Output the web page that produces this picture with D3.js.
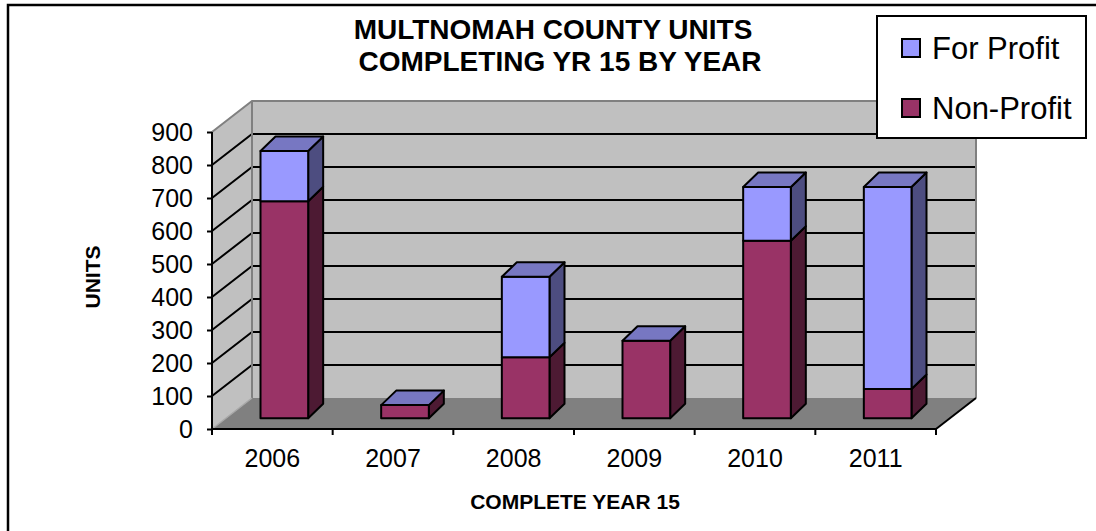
<!DOCTYPE html>
<html>
<head>
<meta charset="utf-8">
<script src="https://cdn.jsdelivr.net/npm/d3@7"></script>
<style>
  body { margin: 0; background: #fff; }
  svg { display: block; font-family: "Liberation Sans", Arial, sans-serif; }
</style>
</head>
<body>
<svg width="1096" height="531"></svg>
<script>
var years = ["2006", "2007", "2008", "2009", "2010", "2011"];
var nonProfit = [658, 40, 185, 235, 538, 89];
var forProfit = [152, 0, 244, 0, 163, 612];
var yTicks = [0, 100, 200, 300, 400, 500, 600, 700, 800, 900];
var seriesNames = ["For Profit", "Non-Profit"];

var svg = d3.select("svg");

// plot box (front plane)
var plotL = 212, plotR = 936, plotB = 429, plotT = 132;
// depth of walls, and of bars
var wdx = 40, wdy = -31;
var bdx = 15, bdy = -14.5;
var frontX = 12, frontY = -10.7;

var x = d3.scaleBand().domain(years).range([plotL, plotR]);
var y = d3.scaleLinear().domain([0, 900]).range([plotB, plotT]);

var colors = {
    fp: { front: "#9999ff", side: "#4d4d80", top: "#7777c2" },
    np: { front: "#993366", side: "#4d1a33", top: "#7a2952" }
};

// frame
svg.append("rect")
    .attr("x", 8).attr("y", 5).attr("width", 1200).attr("height", 600)
    .attr("fill", "none").attr("stroke", "#000").attr("stroke-width", 2.5);

// walls and floor
var y0 = y(0), y9 = y(900);
svg.append("polygon")
    .attr("points", [[plotL, y0], [plotL, y9], [plotL + wdx, y9 + wdy], [plotL + wdx, y0 + wdy]].join(" "))
    .attr("fill", "#c0c0c0");
svg.append("polygon")
    .attr("points", [[plotL + wdx, y9 + wdy], [plotR + wdx, y9 + wdy], [plotR + wdx, y0 + wdy], [plotL + wdx, y0 + wdy]].join(" "))
    .attr("fill", "#c0c0c0");
svg.append("polygon")
    .attr("points", [[plotL, y0], [plotR, y0], [plotR + wdx, y0 + wdy], [plotL + wdx, y0 + wdy]].join(" "))
    .attr("fill", "#808080");

// gridlines
var grid = svg.append("g").attr("stroke", "#000").attr("stroke-width", 2).attr("fill", "none");
yTicks.filter(function(v) { return v > 0 && v < 900; }).forEach(function(v) {
    grid.append("polyline")
        .attr("points", [[plotL, y(v)], [plotL + wdx, y(v) + wdy], [plotR + wdx, y(v) + wdy]].join(" "));
});

// wall edges
var edges = svg.append("g").attr("stroke", "#808080").attr("stroke-width", 2).attr("fill", "none");
edges.append("polyline")
    .attr("points", [[plotL, y9], [plotL + wdx, y9 + wdy], [plotR + wdx, y9 + wdy], [plotR + wdx, y0 + wdy]].join(" "));
edges.append("line")
    .attr("x1", plotL + wdx).attr("y1", y9 + wdy).attr("x2", plotL + wdx).attr("y2", y0 + wdy);
svg.append("line")
    .attr("x1", plotL).attr("y1", y0).attr("x2", plotL + wdx).attr("y2", y0 + wdy)
    .attr("stroke", "#a8a8a8").attr("stroke-width", 1.5);
svg.append("line")
    .attr("x1", plotR).attr("y1", y0).attr("x2", plotR + wdx).attr("y2", y0 + wdy)
    .attr("stroke", "#000").attr("stroke-width", 2);

// bars
var bw = x.bandwidth() * 0.395;
var bars = svg.append("g").attr("stroke", "#000").attr("stroke-width", 2).attr("stroke-linejoin", "round");

function segment(g, x0, v0, v1, c) {
    var x1 = x0 + bw, yb = y(v0) + frontY, yt = y(v1) + frontY;
    g.append("polygon")
        .attr("points", [[x1, yb], [x1 + bdx, yb + bdy], [x1 + bdx, yt + bdy], [x1, yt]].join(" "))
        .attr("fill", c.side);
    g.append("rect")
        .attr("x", x0).attr("y", yt).attr("width", bw).attr("height", yb - yt)
        .attr("fill", c.front);
}

years.forEach(function(yr, i) {
    var g = bars.append("g");
    var x0 = x(yr) + x.bandwidth() / 2 + frontX - bw / 2;
    var np = nonProfit[i], total = nonProfit[i] + forProfit[i];
    segment(g, x0, 0, np, colors.np);
    if (forProfit[i] > 0) segment(g, x0, np, total, colors.fp);
    var yt = y(total) + frontY;
    g.append("polygon")
        .attr("points", [[x0, yt], [x0 + bdx, yt + bdy], [x0 + bw + bdx, yt + bdy], [x0 + bw, yt]].join(" "))
        .attr("fill", colors.fp.top);
});

// y axis
var yAxis = svg.append("g")
    .attr("transform", "translate(" + plotL + ",0)")
    .call(d3.axisLeft(y).tickValues(yTicks).tickSize(5).tickPadding(14));
yAxis.select(".domain").attr("stroke-width", 2).attr("d", "M0," + y0 + "V" + y9);
yAxis.selectAll(".tick line").attr("stroke-width", 2);
yAxis.selectAll("text").attr("font-size", 25).attr("font-family", "Liberation Sans, Arial, sans-serif").attr("fill", "#000");

// x axis
var xAxis = svg.append("g")
    .attr("transform", "translate(0," + plotB + ")")
    .call(d3.axisBottom(x).tickSize(0).tickPadding(20));
xAxis.select(".domain").attr("stroke-width", 2).attr("d", "M" + plotL + ",0H" + plotR);
xAxis.selectAll("text").attr("font-size", 25).attr("font-family", "Liberation Sans, Arial, sans-serif").attr("fill", "#000");
years.concat(["end"]).forEach(function(yr, i) {
    var bx = plotL + i * x.step();
    xAxis.append("line").attr("x1", bx).attr("x2", bx).attr("y1", 0).attr("y2", 6)
        .attr("stroke", "#000").attr("stroke-width", 2);
});

// titles
var title = svg.append("text").attr("font-size", 28).attr("font-weight", "bold").attr("text-anchor", "middle");
title.append("tspan").attr("x", 553).attr("y", 39).text("MULTNOMAH COUNTY UNITS");
title.append("tspan").attr("x", 560).attr("y", 71).text("COMPLETING YR 15 BY YEAR");

svg.append("text")
    .attr("x", 575).attr("y", 509)
    .attr("font-size", 21).attr("font-weight", "bold").attr("text-anchor", "middle")
    .text("COMPLETE YEAR 15");

svg.append("text")
    .attr("transform", "translate(100,277) rotate(-90)")
    .attr("font-size", 21).attr("font-weight", "bold").attr("text-anchor", "middle")
    .text("UNITS");

// legend
var legend = svg.append("g");
legend.append("rect")
    .attr("x", 877).attr("y", 16).attr("width", 209).attr("height", 122)
    .attr("fill", "#fff").attr("stroke", "#000").attr("stroke-width", 2);
var items = legend.selectAll("g.item").data(seriesNames).enter().append("g")
    .attr("transform", function(d, i) { return "translate(902," + (39 + i * 60) + ")"; });
items.append("rect")
    .attr("width", 18).attr("height", 18)
    .attr("fill", function(d, i) { return i === 0 ? colors.fp.front : colors.np.front; })
    .attr("stroke", "#000").attr("stroke-width", 2);
items.append("text")
    .attr("x", 30).attr("y", 20)
    .attr("font-size", 31)
    .text(function(d) { return d; });
</script>
</body>
</html>
